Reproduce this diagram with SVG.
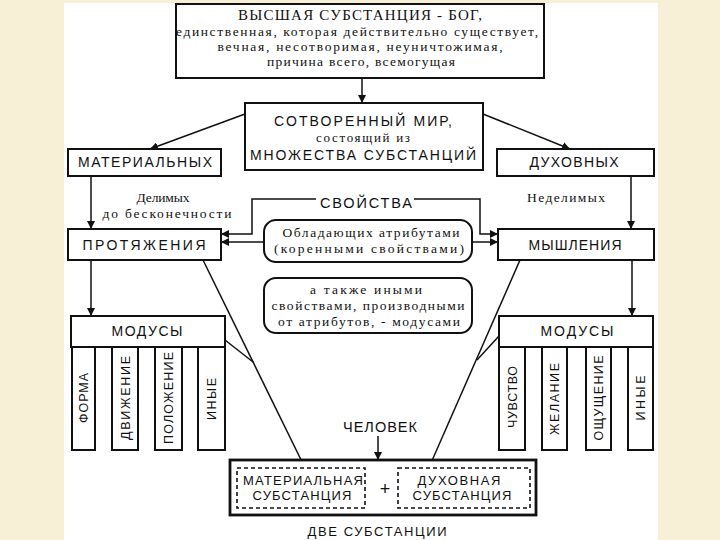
<svg xmlns="http://www.w3.org/2000/svg" width="720" height="540" viewBox="0 0 720 540">
<defs>
<marker id="ah" viewBox="0 0 10 10" refX="10" refY="5" markerWidth="8" markerHeight="8" markerUnits="userSpaceOnUse" orient="auto"><path d="M0,0 L10,5 L0,10 Z" fill="#111"/></marker>
<style>
.box{fill:#fff;stroke:#111;stroke-width:2}
.thick{fill:#fff;stroke:#111;stroke-width:2.8}
.dash{fill:none;stroke:#111;stroke-width:1.6;stroke-dasharray:4 3}
.ln{fill:none;stroke:#111;stroke-width:1.5}
.ar{fill:none;stroke:#111;stroke-width:1.5;marker-end:url(#ah)}
.s{font-family:"Liberation Sans",Arial,sans-serif;fill:#111;text-anchor:middle}
.r{font-family:"Liberation Serif","Times New Roman",serif;fill:#111;text-anchor:middle}
</style>
</defs>
<rect x="0" y="0" width="720" height="540" fill="#f8efd7"/>
<rect x="64" y="3" width="594" height="537" fill="#fff"/>

<g id="connectors">
<line class="ar" x1="362" y1="78" x2="362" y2="103"/>
<line class="ar" x1="245" y1="114" x2="150" y2="149"/>
<line class="ar" x1="483" y1="114" x2="570" y2="149"/>
<line class="ar" x1="91" y1="176" x2="91" y2="229"/>
<line class="ar" x1="631" y1="176" x2="631" y2="229"/>
<polyline class="ar" points="316,199 252,199 252,234 221,234"/>
<polyline class="ar" points="414,199 480,199 480,234 498,234"/>
<line class="ar" x1="264" y1="242" x2="221" y2="242"/>
<line class="ar" x1="472" y1="242" x2="498" y2="242"/>
<line class="ar" x1="91" y1="260" x2="91" y2="316"/>
<line class="ar" x1="632" y1="260" x2="632" y2="316"/>
<line class="ar" x1="203" y1="260" x2="307" y2="472"/>
<line class="ln" x1="225" y1="340" x2="253" y2="362"/>
<line class="ar" x1="520" y1="260" x2="427" y2="472"/>
<line class="ln" x1="499" y1="336" x2="477" y2="360"/>
<line class="ar" x1="378" y1="436" x2="378" y2="460"/>
</g>

<g id="god">
<rect class="box" x="176" y="4" width="368" height="74"/>
<text class="r" x="360" y="20" font-size="15" textLength="244">ВЫСШАЯ СУБСТАНЦИЯ - БОГ,</text>
<text class="r" x="357" y="36" font-size="13.5" textLength="362">единственная, которая действительно существует,</text>
<text class="r" x="360" y="51" font-size="13.5" textLength="285">вечная, несотворимая, неуничтожимая,</text>
<text class="r" x="361" y="66" font-size="13.5" textLength="188">причина всего, всемогущая</text>
</g>

<g id="world">
<rect class="box" x="245" y="103" width="238" height="67"/>
<text class="s" x="363" y="126" font-size="14" textLength="178">СОТВОРЕННЫЙ МИР,</text>
<text class="r" x="363" y="142" font-size="13" textLength="94">состоящий из</text>
<text class="s" x="363" y="160" font-size="14" textLength="226">МНОЖЕСТВА СУБСТАНЦИЙ</text>
</g>

<g id="material">
<rect class="box" x="68" y="149" width="153" height="27"/>
<text class="s" x="145" y="167" font-size="14" textLength="134">МАТЕРИАЛЬНЫХ</text>
</g>

<g id="spiritual">
<rect class="box" x="497" y="149" width="157" height="27"/>
<text class="s" x="574" y="167" font-size="14" textLength="89">ДУХОВНЫХ</text>
</g>

<g id="labels">
<text class="r" x="163" y="202" font-size="13.5" textLength="53">Делимых</text>
<text class="r" x="167" y="218" font-size="13.5" textLength="129">до бесконечности</text>
<text class="r" x="566" y="202" font-size="13.5" textLength="78">Неделимых</text>
<text class="s" x="366" y="208" font-size="14.5" textLength="92">СВОЙСТВА</text>
</g>

<g id="extension">
<rect class="box" x="68" y="229" width="153" height="31"/>
<text class="s" x="144" y="250" font-size="14" textLength="123">ПРОТЯЖЕНИЯ</text>
</g>

<g id="thinking">
<rect class="box" x="498" y="229" width="156" height="31"/>
<text class="s" x="575" y="250" font-size="14" textLength="93">МЫШЛЕНИЯ</text>
</g>

<g id="attributes">
<rect class="box" x="264" y="220" width="208" height="42" rx="12"/>
<text class="r" x="371" y="237" font-size="13.5" textLength="177">Обладающих атрибутами</text>
<text class="r" x="369" y="253" font-size="13.5" textLength="190">(коренными свойствами)</text>
</g>

<g id="modes-note">
<rect class="box" x="264" y="278" width="208" height="55" rx="12"/>
<text class="r" x="366" y="294" font-size="13.5" textLength="112">а также иными</text>
<text class="r" x="368" y="310" font-size="13.5" textLength="193">свойствами, производными</text>
<text class="r" x="369" y="326" font-size="13.5" textLength="182">от атрибутов, - модусами</text>
</g>

<g id="modes-left">
<rect class="box" x="71" y="316" width="154" height="31"/>
<text class="s" x="147" y="336" font-size="14" textLength="71">МОДУСЫ</text>
<rect class="box" x="72" y="347" width="23" height="103"/>
<rect class="box" x="112" y="347" width="26" height="103"/>
<rect class="box" x="155" y="347" width="27" height="103"/>
<rect class="box" x="198" y="347" width="27" height="103"/>
<text class="s" font-size="12.5" transform="translate(88,398) rotate(-90)" textLength="50">ФОРМА</text>
<text class="s" font-size="12.5" transform="translate(130,398) rotate(-90)" textLength="84">ДВИЖЕНИЕ</text>
<text class="s" font-size="12.5" transform="translate(173,398) rotate(-90)" textLength="92">ПОЛОЖЕНИЕ</text>
<text class="s" font-size="12.5" transform="translate(216,399) rotate(-90)" textLength="42">ИНЫЕ</text>
</g>

<g id="modes-right">
<rect class="box" x="499" y="316" width="154" height="31"/>
<text class="s" x="577" y="336" font-size="14" textLength="73">МОДУСЫ</text>
<rect class="box" x="499" y="347" width="26" height="103"/>
<rect class="box" x="542" y="347" width="25" height="103"/>
<rect class="box" x="586" y="347" width="25" height="103"/>
<rect class="box" x="628" y="347" width="25" height="103"/>
<text class="s" font-size="12.5" transform="translate(517,397) rotate(-90)" textLength="62">ЧУВСТВО</text>
<text class="s" font-size="12.5" transform="translate(559,399) rotate(-90)" textLength="72">ЖЕЛАНИЕ</text>
<text class="s" font-size="12.5" transform="translate(603,398) rotate(-90)" textLength="85">ОЩУЩЕНИЕ</text>
<text class="s" font-size="12.5" transform="translate(645,398) rotate(-90)" textLength="45">ИНЫЕ</text>
</g>

<g id="human">
<text class="s" x="380" y="432" font-size="14.5" textLength="74">ЧЕЛОВЕК</text>
</g>

<g id="two-substances">
<rect class="thick" x="230" y="460" width="306" height="55"/>
<rect class="dash" x="237" y="468" width="128" height="40"/>
<rect class="dash" x="398" y="468" width="132" height="40"/>
<text class="s" x="303" y="485" font-size="13" textLength="120">МАТЕРИАЛЬНАЯ</text>
<text class="s" x="302" y="500" font-size="13" textLength="99">СУБСТАНЦИЯ</text>
<text class="s" x="459" y="485" font-size="13" textLength="83">ДУХОВНАЯ</text>
<text class="s" x="462" y="500" font-size="13" textLength="99">СУБСТАНЦИЯ</text>
<text class="s" x="385" y="495" font-size="18">+</text>
<text class="s" x="377" y="536" font-size="13" textLength="139">ДВЕ СУБСТАНЦИИ</text>
</g>
</svg>
